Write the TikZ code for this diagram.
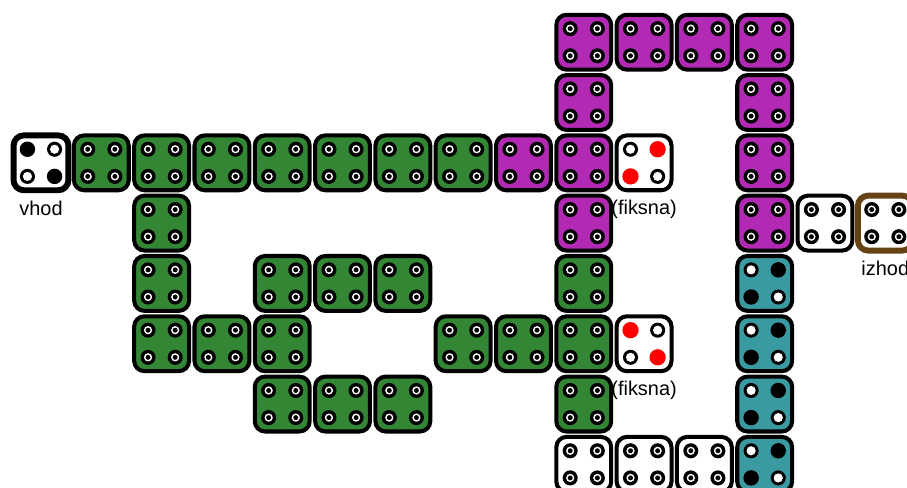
\documentclass[tikz,border=0pt]{standalone}
\usepackage{fontspec}
\setmainfont{Liberation Sans}
\usetikzlibrary{positioning}

\definecolor{tilegreen}{RGB}{51,135,52}
\definecolor{tilemagenta}{RGB}{178,42,180}
\definecolor{tileteal}{RGB}{58,154,162}
\definecolor{tilebrown}{RGB}{102,66,20}

% four pins of a plate: top left, top right, bottom left, bottom right
\newcommand{\pins}[5]{%
  \foreach \s/\dx/\dy in {#2/-1/1,#3/1/1,#4/-1/-1,#5/1/-1}
    \pic at ([shift={(\dx*0.225,\dy*0.225)}]#1.center) {\s};}

\begin{document}
\begin{tikzpicture}[
    tile/.style={draw, line width=1.9pt, rounded corners=0.17cm,
      minimum size=0.91cm, inner sep=0pt},
    lbl/.style={inner sep=1pt, font=\fontsize{9.4}{11}\selectfont},
    pics/hole/.style={code={
      \fill (0,0) circle (0.125);
      \draw[white, line width=0.65pt] (0,0) circle (0.056);}},
    pics/wdot/.style={code={
      \fill (0,0) circle (0.125);
      \fill[white] (0,0) circle (0.076);}},
    pics/bdot/.style={code={\fill (0,0) circle (0.128);}},
    pics/rdot/.style={code={\fill[red] (0,0) circle (0.135);}}]
  \useasboundingbox (0,0) rectangle (15.04,-8.09);

  % entry and exit
  \node[tile, line width=2.8pt, fill=white] (vhod) at (0.68,-2.70) {};
  \pins{vhod}{bdot}{wdot}{wdot}{bdot}
  \node[lbl, below=2.5pt of vhod] (vhodlbl) {vhod};

  \node[tile, line width=2.8pt, draw=tilebrown, fill=white] (izhod) at (14.68,-3.70) {};
  \pins{izhod}{hole}{hole}{hole}{hole}
  \node[lbl, below=2.5pt of izhod] (izhodlbl) {izhod};

  % green plates
  \foreach \c/\r [count=\n] in {1/2,2/2,3/2,4/2,5/2,6/2,7/2,2/3,2/4,4/4,5/4,6/4,9/4,
      2/5,3/5,4/5,7/5,8/5,9/5,4/6,5/6,6/6,9/6} {
    \node[tile, fill=tilegreen] (g\n) at ({0.68+\c},{-0.70-\r}) {};
    \pins{g\n}{hole}{hole}{hole}{hole}
  }

  % magenta plates
  \foreach \c/\r [count=\n] in {9/0,10/0,11/0,12/0,9/1,12/1,8/2,9/2,12/2,9/3,12/3} {
    \node[tile, fill=tilemagenta] (m\n) at ({0.68+\c},{-0.70-\r}) {};
    \pins{m\n}{hole}{hole}{hole}{hole}
  }

  % teal plates
  \foreach \r [count=\n] in {4,5,6,7} {
    \node[tile, fill=tileteal] (t\n) at (12.68,{-0.70-\r}) {};
    \pins{t\n}{wdot}{bdot}{bdot}{wdot}
  }

  % white plates
  \foreach \c/\r [count=\n] in {13/3,9/7,10/7,11/7} {
    \node[tile, fill=white] (w\n) at ({0.68+\c},{-0.70-\r}) {};
    \pins{w\n}{hole}{hole}{hole}{hole}
  }

  % fixed plates
  \node[tile, fill=white] (fix1) at (10.68,-2.70) {};
  \pins{fix1}{wdot}{rdot}{rdot}{wdot}
  \node[lbl, below=2.5pt of fix1] (fix1lbl) {(fiksna)};

  \node[tile, fill=white] (fix2) at (10.68,-5.70) {};
  \pins{fix2}{rdot}{wdot}{wdot}{rdot}
  \node[lbl, below=2.5pt of fix2] (fix2lbl) {(fiksna)};
\end{tikzpicture}
\end{document}
